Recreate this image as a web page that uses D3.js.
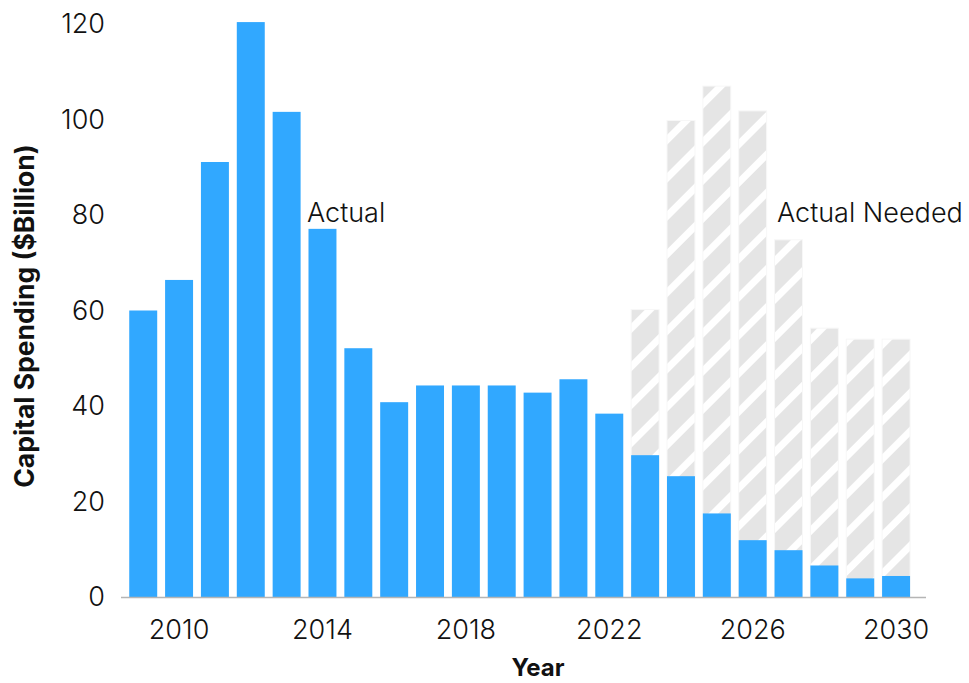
<!DOCTYPE html>
<html>
<head>
<meta charset="utf-8">
<script src="https://cdn.jsdelivr.net/npm/d3@7"></script>
<style>
  html, body { margin: 0; padding: 0; background: #fff; }
  svg text { font-family: Inter, "Helvetica Neue", Arial, sans-serif; }
</style>
</head>
<body>
<svg id="chart" width="969" height="683"></svg>
<script>
// Annual capital spending, $ billion
const years = d3.range(2009, 2031);
const actual = [60, 66.4, 91.1, 120.4, 101.6, 77.1, 52.1, 40.8, 44.3, 44.3, 44.3, 42.8, 45.6, 38.4,
                29.7, 25.3, 17.5, 11.9, 9.8, 6.6, 3.9, 4.4];
const neededYears = d3.range(2023, 2031);
const needed = [60.2, 99.8, 107, 101.8, 74.8, 56.3, 54, 54];
const yTicks = [0, 20, 40, 60, 80, 100, 120];
const xTicks = [2010, 2014, 2018, 2022, 2026, 2030];

const svg = d3.select("#chart");

const x = d3.scaleBand()
  .domain(years)
  .range([125.3, 914])
  .paddingInner(0.22)
  .paddingOuter(0.11);

const y = d3.scaleLinear().domain([0, 120]).range([597, 24]);

// Diagonal hatch for the "needed" bars
const defs = svg.append("defs");
const pat = defs.append("pattern")
  .attr("id", "hatch")
  .attr("patternUnits", "userSpaceOnUse")
  .attr("width", 27)
  .attr("height", 27)
  .attr("patternTransform", "rotate(45)");
pat.append("rect").attr("width", 27).attr("height", 27).attr("fill", "#e5e5e5");
pat.append("rect").attr("x", 0).attr("width", 7).attr("height", 27).attr("fill", "#ffffff");

// Needed bars (behind)
svg.append("g").selectAll("rect")
  .data(neededYears.map((yr, i) => ({ yr, v: needed[i] })))
  .join("rect")
  .attr("x", d => x(d.yr))
  .attr("y", d => y(d.v))
  .attr("width", x.bandwidth())
  .attr("height", d => y(0) - y(d.v))
  .attr("fill", "url(#hatch)")
  .attr("stroke", "#f7f7f7")
  .attr("stroke-width", 1);

// Actual bars
svg.append("g").selectAll("rect")
  .data(years.map((yr, i) => ({ yr, v: actual[i] })))
  .join("rect")
  .attr("x", d => x(d.yr))
  .attr("y", d => y(d.v))
  .attr("width", x.bandwidth())
  .attr("height", d => y(0) - y(d.v))
  .attr("fill", "#31a8ff");

// Baseline
svg.append("line")
  .attr("x1", 121).attr("x2", 926)
  .attr("y1", y(0) + 0.5).attr("y2", y(0) + 0.5)
  .attr("stroke", "#b5b5b5")
  .attr("stroke-width", 1.5);

// Y axis (labels only)
const yAxis = d3.axisLeft(y).tickValues(yTicks).tickSize(0).tickPadding(0);
const gy = svg.append("g").attr("transform", "translate(105,0)").call(yAxis);
gy.select(".domain").remove();
gy.selectAll("text")
  .attr("font-size", 27)
  .attr("font-weight", 300)
  .attr("fill", "#111")
  .attr("font-family", "Inter, sans-serif");

// X axis (labels only)
const xAxis = d3.axisBottom(x).tickValues(xTicks).tickSize(0).tickPadding(0);
const gx = svg.append("g").attr("transform", "translate(0,620)").call(xAxis);
gx.select(".domain").remove();
gx.selectAll("text")
  .attr("font-size", 27)
  .attr("font-weight", 300)
  .attr("fill", "#111")
  .attr("dy", "0.71em")
  .attr("font-family", "Inter, sans-serif");

// Axis titles
svg.append("text")
  .attr("x", 538).attr("y", 676)
  .attr("text-anchor", "middle")
  .attr("font-size", 24)
  .attr("font-weight", 700)
  .attr("fill", "#111")
  .text("Year");

svg.append("text")
  .attr("transform", "translate(34,316) rotate(-90)")
  .attr("text-anchor", "middle")
  .attr("font-size", 26.5)
  .attr("font-weight", 700)
  .attr("fill", "#111")
  .text("Capital Spending ($Billion)");

// Series annotations
svg.append("text")
  .attr("x", 307).attr("y", 222)
  .attr("font-size", 27)
  .attr("font-weight", 300)
  .attr("fill", "#111")
  .text("Actual");

svg.append("text")
  .attr("x", 777).attr("y", 222)
  .attr("font-size", 27)
  .attr("font-weight", 300)
  .attr("fill", "#111")
  .text("Actual Needed");
</script>
</body>
</html>
